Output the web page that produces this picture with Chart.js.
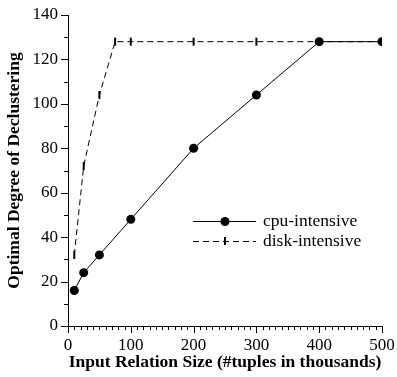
<!DOCTYPE html>
<html>
<head>
<meta charset="utf-8">
<script src="https://cdn.jsdelivr.net/npm/chart.js@4.4.1/dist/chart.umd.min.js"></script>
<style>
    html, body { margin: 0; padding: 0; background: #fff; }
    #wrap { width: 397px; height: 377px; }
</style>
</head>
<body>
<div id="wrap"><canvas id="chartDecl"></canvas></div>
<script>
const cpuSizes = [10, 25, 50, 100, 200, 300, 400, 500];
const cpuDegree = [16, 24, 32, 48, 80, 104, 128, 128];
const diskSizes = [10, 25, 50, 75, 100, 200, 300, 400, 500];
const diskDegree = [32, 72, 104, 128, 128, 128, 128, 128, 128];
const seriesLabels = ["cpu-intensive", "disk-intensive"];

const serif = "'Liberation Serif', 'Times New Roman', serif";

// ticks drawn by hand: long ones on labelled values, short ones between
const tickMarks = {
    id: "tickMarks",
    afterDraw(chart) {
        const ctx = chart.ctx;
        const x = chart.scales.x, y = chart.scales.y;
        ctx.save();
        ctx.strokeStyle = "#000";
        ctx.lineWidth = 1;
        ctx.beginPath();
        x.ticks.forEach(t => {
            const px = Math.round(x.getPixelForValue(t.value)) + 0.5;
            const len = t.value % 100 === 0 ? 7 : 4;
            ctx.moveTo(px, x.top);
            ctx.lineTo(px, x.top + len);
        });
        y.ticks.forEach(t => {
            const py = Math.round(y.getPixelForValue(t.value)) + 0.5;
            const len = t.value % 20 === 0 ? 7 : 4;
            ctx.moveTo(y.right, py);
            ctx.lineTo(y.right - len, py);
        });
        ctx.stroke();
        ctx.restore();
    }
};

// legend sits inside the plot area
const innerLegend = {
    id: "innerLegend",
    afterDraw(chart) {
        const ctx = chart.ctx;
        ctx.save();
        ctx.strokeStyle = "#000";
        ctx.fillStyle = "#000";
        ctx.lineWidth = 1;
        const x0 = 193, x1 = 256, mx = 225;
        const rows = [221, 241];

        ctx.beginPath();
        ctx.moveTo(x0, rows[0] + 0.5);
        ctx.lineTo(x1, rows[0] + 0.5);
        ctx.stroke();
        ctx.beginPath();
        ctx.arc(mx, rows[0] + 0.5, 4.5, 0, Math.PI * 2);
        ctx.fill();

        ctx.setLineDash([6, 4]);
        ctx.beginPath();
        ctx.moveTo(x0, rows[1] + 0.5);
        ctx.lineTo(x1, rows[1] + 0.5);
        ctx.stroke();
        ctx.setLineDash([]);
        ctx.lineWidth = 2;
        ctx.beginPath();
        ctx.moveTo(mx, rows[1] - 4);
        ctx.lineTo(mx, rows[1] + 4);
        ctx.stroke();

        ctx.font = "17.5px " + serif;
        ctx.textBaseline = "middle";
        ctx.fillText(seriesLabels[0], 263, rows[0]);
        ctx.fillText(seriesLabels[1], 263, rows[1]);
        ctx.restore();
    }
};

new Chart(document.getElementById("chartDecl"), {
    type: "scatter",
    data: {
        datasets: [{
            label: seriesLabels[1],
            data: diskSizes.map((s, i) => ({x: s, y: diskDegree[i]})),
            showLine: true,
            borderColor: "#000",
            borderWidth: 1,
            borderDash: [6, 4],
            pointStyle: "line",
            rotation: 90,
            pointRadius: 4,
            pointBorderWidth: 2,
            pointBorderColor: "#000",
            pointBackgroundColor: "#000"
        }, {
            label: seriesLabels[0],
            data: cpuSizes.map((s, i) => ({x: s, y: cpuDegree[i]})),
            showLine: true,
            borderColor: "#000",
            borderWidth: 1,
            pointStyle: "circle",
            pointRadius: 4.5,
            pointBorderWidth: 0,
            pointBackgroundColor: "#000"
        }]
    },
    options: {
        responsive: true,
        maintainAspectRatio: false,
        animation: false,
        layout: {
            padding: {top: 15, right: 15, left: 4, bottom: 4}
        },
        scales: {
            x: {
                type: "linear",
                min: 0,
                max: 500,
                afterFit: s => { s.height = 47; },
                border: {display: true, color: "#000", width: 1},
                grid: {drawOnChartArea: false, drawTicks: true, tickLength: 7, color: "transparent"},
                ticks: {
                    stepSize: 10,
                    autoSkip: false,
                    maxRotation: 0,
                    padding: 2,
                    color: "#000",
                    font: {family: serif, size: 17},
                    callback: v => v % 100 === 0 ? v : ""
                },
                title: {
                    display: true,
                    text: "Input Relation Size (#tuples in thousands)",
                    color: "#000",
                    font: {family: serif, size: 17.5, weight: "bold"},
                    padding: {top: 0, bottom: 0}
                }
            },
            y: {
                type: "linear",
                min: 0,
                max: 140,
                afterFit: s => { s.width = 64; },
                border: {display: true, color: "#000", width: 1},
                grid: {drawOnChartArea: false, drawTicks: true, tickLength: 7, color: "transparent"},
                ticks: {
                    stepSize: 10,
                    autoSkip: false,
                    padding: 3,
                    color: "#000",
                    font: {family: serif, size: 17},
                    callback: v => v % 20 === 0 ? v : ""
                },
                title: {
                    display: true,
                    text: "Optimal Degree of Declustering",
                    color: "#000",
                    font: {family: serif, size: 17.5, weight: "bold"},
                    padding: {top: 0, bottom: 0}
                }
            }
        },
        plugins: {
            legend: {display: false},
            tooltip: {enabled: false}
        }
    },
    plugins: [tickMarks, innerLegend]
});
</script>
</body>
</html>
